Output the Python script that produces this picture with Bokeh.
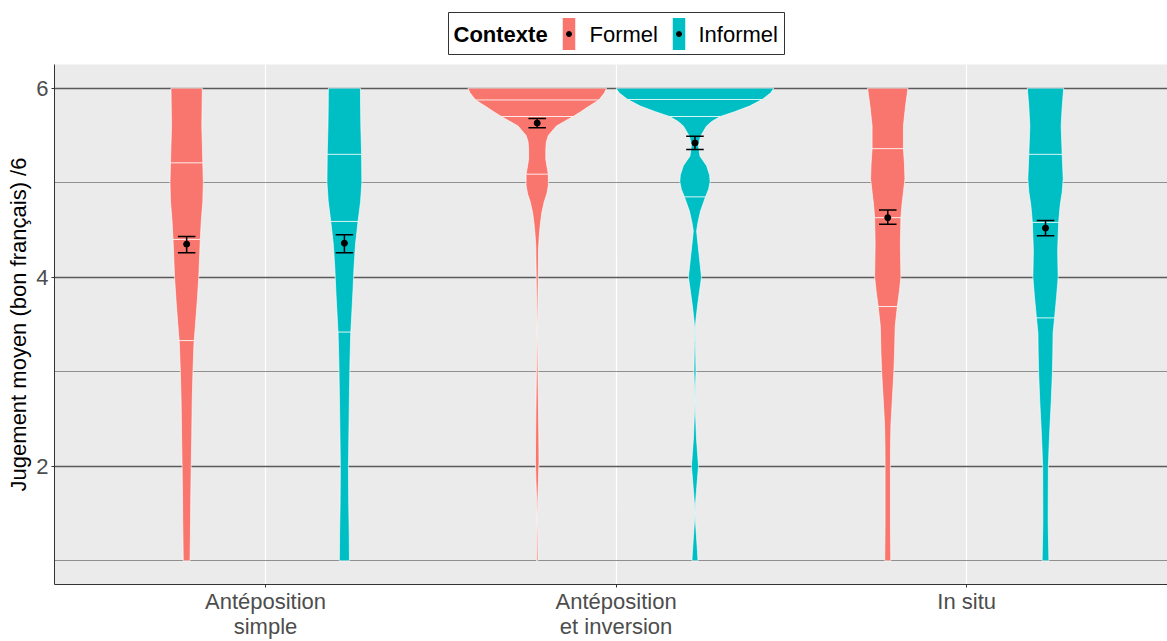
import numpy as np
from bokeh.plotting import figure
from bokeh.models import FixedTicker, Range1d, Spacer
from bokeh.layouts import column, row
from bokeh.core.properties import value
from bokeh.embed import file_html
from bokeh.resources import INLINE

# ---------------- data ----------------
categories = ["Antéposition\nsimple", "Antéposition\net inversion", "In situ"]
contexts = ["Formel", "Informel"]
colors = ["#F8766D", "#00BFC4"]
legend_title = "Contexte"

# violin density profiles (y level, relative density)
simple_formel_y = [6.0, 5.8, 5.6, 5.4, 5.2, 5.0, 4.8, 4.6, 4.4, 4.2, 4.0, 3.75, 3.5, 3.3, 3.0, 2.7, 2.3, 2.0, 1.7, 1.4, 1.0]
simple_formel_d = [31, 30.5, 30, 31, 32, 33, 32, 29, 27, 25.5, 24, 21, 17.5, 14.5, 12.5, 11, 10, 9, 8.2, 7.7, 6.7]

simple_informel_y = [6.0, 5.8, 5.6, 5.3, 5.0, 4.8, 4.59, 4.35, 4.1, 3.86, 3.6, 3.4, 3.1, 2.78, 2.4, 2.0, 1.6, 1.3, 1.0]
simple_informel_d = [31.7, 32, 32.5, 34, 34.5, 32, 27, 22, 19, 17, 14.5, 12.5, 11, 10, 9, 8, 8.5, 9.5, 10]

inversion_formel_y = [6.0, 5.95, 5.875, 5.8, 5.75, 5.70, 5.60, 5.5, 5.43, 5.35, 5.25, 5.15, 5.09, 4.97, 4.88, 4.80,
                      4.68, 4.55, 4.43, 4.31, 4.0, 3.7, 3.45, 3.2, 3.0, 2.6, 2.3, 2.05, 1.85, 1.65, 1.45, 1.25, 1.0]
inversion_formel_d = [137, 133, 122, 100, 86, 71, 38, 22, 18, 17, 17, 20, 22, 22, 19, 14,
                      9, 6, 4, 2.7, 2, 1.2, 0.4, 1, 1.5, 2.5, 3.2, 3.5, 2.5, 1.2, 0.4, 1, 1.5]

inversion_informel_y = [6.0, 5.95, 5.88, 5.81, 5.75, 5.70, 5.65, 5.60, 5.49, 5.39, 5.28, 5.18, 5.08, 5.01, 4.93, 4.85,
                        4.70, 4.58, 4.49, 4.35, 4.2, 4.0, 3.85, 3.69, 3.55, 3.45, 3.3, 3.0, 2.85, 2.68, 2.5, 2.3,
                        2.15, 2.0, 1.87, 1.74, 1.6, 1.5, 1.38, 1.26, 1.1, 1.0]
inversion_informel_d = [156, 150, 133, 108, 78, 50, 34, 23, 11, 7, 10, 23, 29, 30, 27, 21,
                        11, 6, 3.3, 6, 9, 13, 9, 5, 2, 0.5, 1, 2, 1, 0.3, 1.5, 3,
                        5, 7, 5, 3, 1, 0.3, 1.5, 3, 5, 6]

insitu_formel_y = [6.0, 5.8, 5.6, 5.36, 5.2, 5.04, 4.9, 4.76, 4.63, 4.35, 4.0, 3.85, 3.69, 3.48, 3.2, 2.99, 2.7, 2.44, 2.2, 2.0, 1.4, 1.0]
insitu_formel_d = [40, 35, 31, 31, 33, 34, 31, 28, 26, 25, 26, 23, 19, 14.7, 13.5, 12, 9, 6.3, 5.5, 5.3, 5.3, 6]

insitu_informel_y = [6.0, 5.8, 5.6, 5.3, 5.04, 4.9, 4.76, 4.58, 4.28, 4.0, 3.8, 3.57, 3.41, 3.2, 3.0, 2.7, 2.44, 2.2, 2.0, 1.7, 1.4, 1.0]
insitu_informel_d = [36, 33, 31, 33, 35, 33, 29, 26, 24, 25, 22, 18, 15, 14.5, 13.7, 11.5, 9, 7, 5.7, 5.4, 5.3, 6.7]

# quartiles (25 %, 50 %, 75 %) per violin, order: simple F, simple I, inversion F, inversion I, in situ F, in situ I
quartiles = [[3.33, 4.40, 5.21], [3.42, 4.59, 5.30], [5.09, 5.70, 5.875],
             [4.85, 5.70, 5.88], [3.69, 4.63, 5.36], [3.57, 4.58, 5.30]]

# means and confidence intervals
mean_formel = [4.35, 5.63, 4.63]
lo_formel = [4.26, 5.58, 4.56]
hi_formel = [4.43, 5.68, 4.71]
mean_informel = [4.36, 5.42, 4.52]
lo_informel = [4.26, 5.35, 4.44]
hi_informel = [4.45, 5.49, 4.60]

profiles = [
    (simple_formel_y, simple_formel_d), (simple_informel_y, simple_informel_d),
    (inversion_formel_y, inversion_formel_d), (inversion_informel_y, inversion_informel_d),
    (insitu_formel_y, insitu_formel_d), (insitu_informel_y, insitu_informel_d),
]

# ---------------- geometry ----------------
DODGE = 0.225
VWIDTH = 0.45
CAP = 0.05
FONT = "Liberation Sans"

dmax = max(max(d) for _, d in profiles)

p = figure(width=1167, height=586, output_backend="svg", toolbar_location=None,
           x_range=Range1d(0.398, 3.573), y_range=Range1d(0.75, 6.25),
           min_border_left=54, min_border_right=0, min_border_top=9, min_border_bottom=0)
p.background_fill_color = "#EBEBEB"
p.border_fill_color = "white"
p.outline_line_color = None

for gi, ctx in enumerate(contexts):
    xs, ys = [], []
    qx0, qx1, qy = [], [], []
    for ci in range(len(categories)):
        k = ci * 2 + gi
        yv = np.array(profiles[k][0], dtype=float)
        dv = np.array(profiles[k][1], dtype=float)
        center = ci + 1 + (DODGE if gi == 1 else -DODGE)
        hw = dv / dmax * VWIDTH / 2
        xs.append(list(np.concatenate([center - hw, (center + hw)[::-1]])))
        ys.append(list(np.concatenate([yv, yv[::-1]])))
        order = np.argsort(yv)
        for q in quartiles[k]:
            w = np.interp(q, yv[order], dv[order]) / dmax * VWIDTH / 2
            qx0.append(center - w)
            qx1.append(center + w)
            qy.append(q)
    p.patches(xs, ys, fill_color=colors[gi], line_color="white", line_width=0.7, line_alpha=0.9)
    p.segment(x0=qx0, y0=qy, x1=qx1, y1=qy, line_color="white", line_width=1, line_alpha=0.85)

for gi, ctx in enumerate(contexts):
    means = mean_formel if gi == 0 else mean_informel
    lows = lo_formel if gi == 0 else lo_informel
    highs = hi_formel if gi == 0 else hi_informel
    cx = [ci + 1 + (DODGE if gi == 1 else -DODGE) for ci in range(len(categories))]
    p.segment(x0=cx, y0=lows, x1=cx, y1=highs, line_color="black", line_width=1.5)
    p.segment(x0=[c - CAP / 2 for c in cx], y0=lows, x1=[c + CAP / 2 for c in cx], y1=lows,
              line_color="black", line_width=1.5)
    p.segment(x0=[c - CAP / 2 for c in cx], y0=highs, x1=[c + CAP / 2 for c in cx], y1=highs,
              line_color="black", line_width=1.5)
    p.scatter(cx, means, size=6, color="black")

# ---------------- axes & grids ----------------
yt = FixedTicker(ticks=[2, 4, 6], minor_ticks=[1, 3, 5])
p.yaxis.ticker = yt
p.ygrid.ticker = yt
p.yaxis.axis_label = "Jugement moyen (bon français) /6"
p.yaxis.axis_label_text_font = FONT
p.yaxis.axis_label_text_font_size = "22px"
p.yaxis.axis_label_text_font_style = "normal"
p.yaxis.axis_label_text_color = "black"
p.yaxis.axis_label_standoff = 2
p.yaxis.major_label_text_font = FONT
p.yaxis.major_label_text_font_size = "22px"
p.yaxis.major_label_text_color = "#4D4D4D"
p.yaxis.major_label_standoff = 3
p.yaxis.major_tick_out = 3
p.yaxis.major_tick_in = 0
p.yaxis.minor_tick_out = 0
p.yaxis.minor_tick_in = 0
p.yaxis.axis_line_color = "#333333"
p.yaxis.major_tick_line_color = "#333333"

xt = FixedTicker(ticks=[1, 2, 3])
p.xaxis.ticker = xt
p.xgrid.ticker = xt
p.xaxis.major_label_overrides = {i + 1: lab for i, lab in enumerate(categories)}
p.xaxis.major_label_text_font = FONT
p.xaxis.major_label_text_font_size = "22px"
p.xaxis.major_label_text_color = "#4D4D4D"
p.xaxis.major_label_text_line_height = 1.0
p.xaxis.major_label_standoff = 1
p.xaxis.major_tick_out = 3
p.xaxis.major_tick_in = 0
p.xaxis.minor_tick_out = 0
p.xaxis.axis_line_color = "#333333"
p.xaxis.major_tick_line_color = "#333333"

p.ygrid.grid_line_color = "#5a5a5a"
p.ygrid.grid_line_width = 1.3
p.ygrid.minor_grid_line_color = "#8f8f8f"
p.ygrid.minor_grid_line_width = 1
p.xgrid.grid_line_color = "white"
p.xgrid.grid_line_width = 1.2

# ---------------- legend (own small panel) ----------------
LW, LH = 336, 43
leg = figure(width=LW + 1, height=LH + 12, output_backend="svg", toolbar_location=None,
             x_range=Range1d(0, LW), y_range=Range1d(0, LH), x_axis_type=None, y_axis_type=None,
             min_border_left=0, min_border_right=1, min_border_top=12, min_border_bottom=0)
leg.grid.visible = False
leg.background_fill_color = "white"
leg.border_fill_color = "white"
leg.outline_line_color = "#333333"
leg.outline_line_width = 1
mid = LH / 2
leg.text(x=[5], y=[mid], text=[legend_title], text_font=value(FONT), text_font_size="22px",
         text_font_style="bold", text_baseline="middle", text_align="left", text_color="black")
key_x = [120.5, 230.5]
lab_x = [141, 250]
leg.rect(x=key_x, y=[mid] * 2, width=12.5, height=32, fill_color=colors, line_color=None)
leg.scatter(x=key_x, y=[mid] * 2, size=5, color="black")
leg.text(x=lab_x, y=[mid] * 2, text=contexts, text_font=value(FONT), text_font_size="22px",
         text_baseline="middle", text_align="left", text_color="black")

layout = column(row(Spacer(width=448, height=LH + 12), leg), p)

open("out.html", "w").write(file_html(layout, INLINE))
